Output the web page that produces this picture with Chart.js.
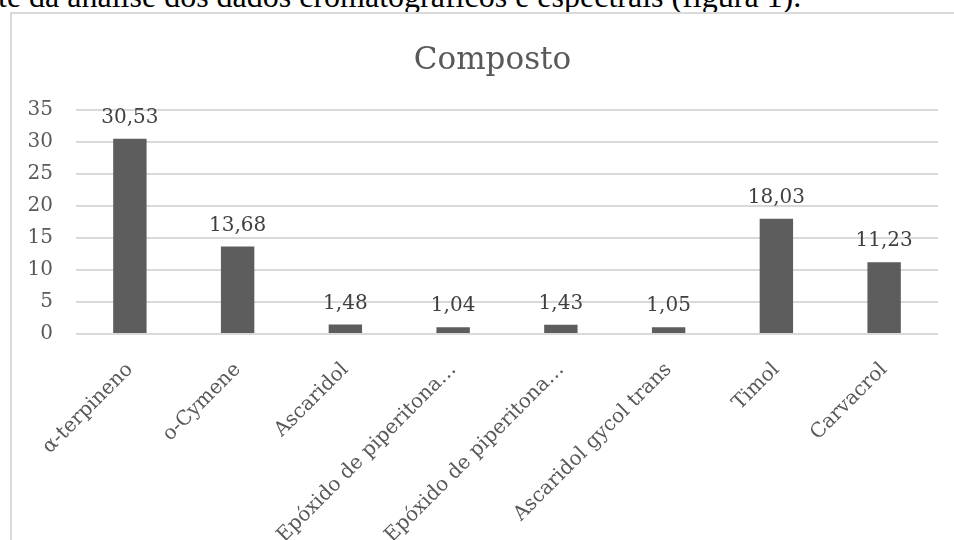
<!DOCTYPE html>
<html>
<head>
<meta charset="utf-8">
<script src="https://cdn.jsdelivr.net/npm/chart.js@4.4.1/dist/chart.umd.min.js"></script>
<style>
  html, body { margin: 0; padding: 0; background: #fff; overflow: hidden; }
  body { width: 954px; height: 540px; position: relative; }
  #lead {
    position: absolute; left: -2px; top: -20px; white-space: nowrap;
    font-family: "Liberation Serif", serif; font-size: 32px; line-height: 33px; color: #000;
  }
  #frame {
    position: absolute; left: 10px; top: 12px; width: 1000px; height: 600px;
    border: 2px solid #dadada; box-sizing: border-box;
  }
  #myChart { position: absolute; left: 0; top: 0; }
</style>
</head>
<body>
<div id="lead">te da análise dos dados cromatográficos e espectrais (figura 1).</div>
<div id="frame"></div>
<canvas id="myChart" width="986" height="540"></canvas>

<script>
'use strict'

// compounds and their share
let compoundNames = ['α-terpineno', 'o-Cymene', 'Ascaridol', 'Epóxido de piperitona…', 'Epóxido de piperitona…', 'Ascaridol gycol trans', 'Timol', 'Carvacrol'];
let compoundValues = [30.53, 13.68, 1.48, 1.04, 1.43, 1.05, 18.03, 11.23];
let yTicks = [0, 5, 10, 15, 20, 25, 30, 35];

let serif = '"DejaVu Serif", serif';

// writes the value over each bar, comma as decimal mark
const valueLabels = {
  id: 'valueLabels',
  afterDatasetsDraw(chart) {
    let ctx = chart.ctx;
    let meta = chart.getDatasetMeta(0);
    ctx.save();
    ctx.font = '20px ' + serif;
    ctx.fillStyle = '#404040';
    ctx.textAlign = 'center';
    ctx.textBaseline = 'alphabetic';
    meta.data.forEach(function (bar, i) {
      let text = compoundValues[i].toFixed(2).replace('.', ',');
      ctx.fillText(text, bar.x, bar.y - 16);
    });
    ctx.restore();
  }
};

const data = {
  labels: compoundNames,
  datasets: [{
    label: 'Composto',
    data: compoundValues,
    backgroundColor: '#5d5d5d',
    borderWidth: 0,
    barPercentage: 0.31,
    categoryPercentage: 1
  }]
};

const config = {
  type: 'bar',
  data: data,
  plugins: [valueLabels],
  options: {
    responsive: false,
    animation: false,
    layout: { padding: { left: 10, right: 11, top: 0, bottom: 0 } },
    plugins: {
      legend: { display: false },
      tooltip: { enabled: false },
      title: {
        display: true,
        text: 'Composto',
        color: '#595959',
        font: { family: serif, size: 31, weight: 'normal' },
        padding: { top: 42, bottom: 31 }
      }
    },
    scales: {
      y: {
        min: yTicks[0],
        max: yTicks[yTicks.length - 1],
        afterBuildTicks(scale) {
          scale.ticks = yTicks.map(function (v) { return { value: v }; });
        },
        afterFit(scale) { scale.width = 66; },
        border: { display: false },
        grid: { color: '#d9d9d9', lineWidth: 2, drawTicks: false },
        ticks: {
          color: '#595959',
          font: { family: serif, size: 20 },
          padding: 23
        }
      },
      // empty strip on the right, the frame runs wider than the plot
      spacer: {
        type: 'linear',
        position: 'right',
        afterFit(scale) { scale.width = 37; },
        border: { display: false },
        grid: { display: false, drawTicks: false },
        ticks: { display: false }
      },
      x: {
        afterFit(scale) { scale.height = 206; },
        border: { display: false },
        grid: { display: false, drawTicks: false },
        ticks: {
          color: '#595959',
          font: { family: serif, size: 20 },
          minRotation: 45,
          maxRotation: 45,
          autoSkip: false,
          padding: 24
        }
      }
    }
  }
};

let canvasChart = document.getElementById('myChart');
const myChart = new Chart(canvasChart, config);
</script>
</body>
</html>
